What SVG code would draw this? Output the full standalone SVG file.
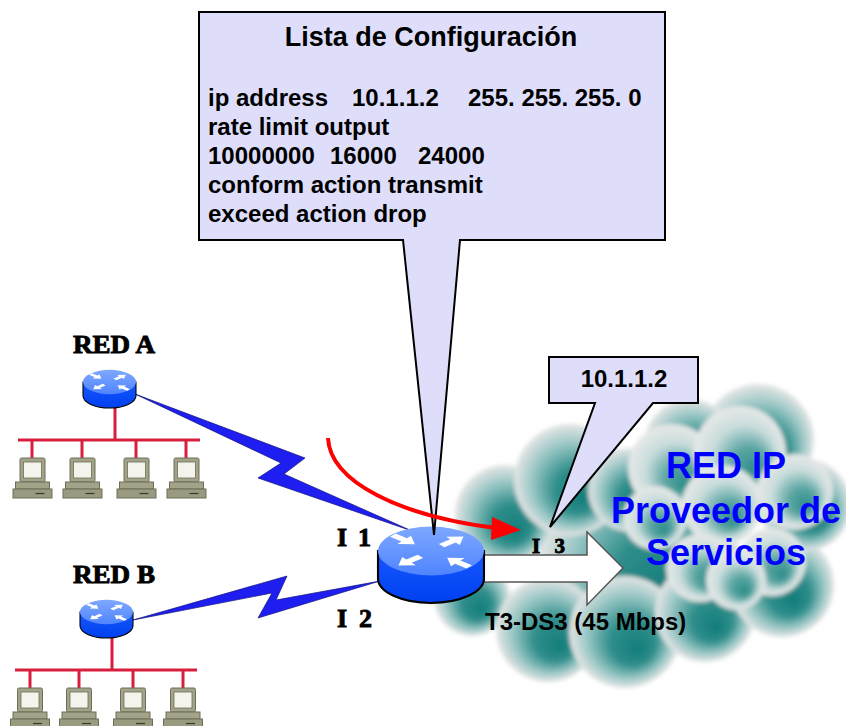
<svg xmlns="http://www.w3.org/2000/svg" xmlns:xlink="http://www.w3.org/1999/xlink" width="846" height="726" viewBox="0 0 846 726">
  <style>
    .cfg { font-family: "Liberation Sans", Arial, sans-serif; font-weight: bold; font-size: 24px; fill: #000; }
    .title { font-family: "Liberation Sans", Arial, sans-serif; font-weight: bold; font-size: 27px; fill: #000; }
    .lbl { font-family: "Liberation Serif", "Times New Roman", serif; font-weight: bold; fill: #000; stroke: #000; stroke-width: 0.9; }
    .sans { font-family: "Liberation Sans", Arial, sans-serif; font-weight: bold; }
    .blue { font-family: "Liberation Sans", Arial, sans-serif; font-weight: bold; font-size: 36px; fill: #0000ff; }
    .callout { fill: #dedefa; stroke: #000; stroke-width: 2; stroke-linejoin: miter; }
    .bolt { fill: #1e1ef0; stroke: #12127a; stroke-width: 0.7; }
    .lan { stroke: #d81e3c; stroke-width: 3; fill: none; }
    .puff { fill: url(#puffGrad); }
    .puff2 { fill: url(#puffGrad2); }
  </style>
  <defs>
    <radialGradient id="puffGrad" cx="0.5" cy="0.5" r="0.5" fx="0.62" fy="0.66">
      <stop offset="0" stop-color="#137d7a"/>
      <stop offset="0.4" stop-color="#2f8e8b"/>
      <stop offset="0.75" stop-color="#9cc8c6"/>
      <stop offset="1" stop-color="#e6e6e6"/>
    </radialGradient>
    <radialGradient id="puffGrad2" cx="0.5" cy="0.5" r="0.5" fx="0.66" fy="0.7">
      <stop offset="0" stop-color="#2a8c89"/>
      <stop offset="0.35" stop-color="#5aa5a2"/>
      <stop offset="0.7" stop-color="#c9dddc"/>
      <stop offset="1" stop-color="#e8e8e8"/>
    </radialGradient>
    <linearGradient id="routerTop" x1="0" y1="0" x2="0" y2="1">
      <stop offset="0" stop-color="#7ea8ff"/>
      <stop offset="1" stop-color="#4f84ff"/>
    </linearGradient>
    <linearGradient id="routerSide" x1="0" y1="0" x2="0" y2="1">
      <stop offset="0" stop-color="#1658ff"/>
      <stop offset="1" stop-color="#0040f0"/>
    </linearGradient>
    <filter id="soft" x="-5%" y="-5%" width="110%" height="110%">
      <feGaussianBlur stdDeviation="2"/>
    </filter>
    <!-- one white arrow, pointing along +x -->
    <polygon id="arr" points="0,-4 14,-4 14,-10 27,0 14,10 14,4 0,4" fill="#fff"/>
    <!-- router: unit size, top ellipse centred on the origin -->
    <g id="router">
      <path d="M-50,0 V26 A50,23 0 0 0 50,26 V0 Z" fill="url(#routerSide)" stroke="#000" stroke-width="2"/>
      <ellipse cx="0" cy="0" rx="50" ry="23" fill="url(#routerTop)"/>
      <g transform="scale(1,0.5)">
        <use xlink:href="#arr" transform="translate(-36,-30) rotate(40)"/>
        <use xlink:href="#arr" transform="translate(10,-10) rotate(-40)"/>
        <use xlink:href="#arr" transform="translate(-10,10) rotate(140)"/>
        <use xlink:href="#arr" transform="translate(36,30) rotate(-140)"/>
      </g>
    </g>
    <!-- workstation: monitor on a base unit, top centre at the origin -->
    <g id="pc">
      <rect x="-12.5" y="0" width="25" height="24" rx="1.5" fill="#a3a38a" stroke="#6e6e58" stroke-width="1"/>
      <rect x="-9" y="4" width="18" height="16" fill="#f4f4ec" stroke="#6e6e58" stroke-width="0.8"/>
      <rect x="-17" y="24" width="34" height="7" fill="#a3a38a" stroke="#6e6e58" stroke-width="1"/>
      <rect x="-19.5" y="31" width="39" height="9" fill="#9a9a80" stroke="#6e6e58" stroke-width="1"/>
      <line x1="3" y1="35.5" x2="12" y2="35.5" stroke="#3a3a2a" stroke-width="1.2"/>
    </g>
  </defs>

  <rect width="846" height="726" fill="#fff"/>

  <!-- provider cloud -->
  <g id="cloud" filter="url(#soft)">
    <circle class="puff" cx="640" cy="560" r="100"/>
    <circle class="puff" cx="472" cy="598" r="38"/>
    <circle class="puff" cx="505" cy="515" r="50"/>
    <circle class="puff" cx="570" cy="480" r="56"/>
    <circle class="puff" cx="548" cy="630" r="52"/>
    <circle class="puff" cx="625" cy="632" r="56"/>
    <circle class="puff" cx="705" cy="612" r="50"/>
    <circle class="puff" cx="782" cy="585" r="52"/>
    <circle class="puff" cx="805" cy="505" r="46"/>
    <circle class="puff" cx="758" cy="440" r="56"/>
    <circle class="puff" cx="690" cy="445" r="46"/>
    <circle class="puff" cx="630" cy="490" r="42"/>
    <circle class="puff2" cx="672" cy="468" r="44"/>
    <circle class="puff2" cx="740" cy="452" r="46"/>
    <circle class="puff2" cx="795" cy="492" r="38"/>
    <circle class="puff2" cx="655" cy="518" r="32"/>
    <circle class="puff2" cx="722" cy="505" r="40"/>
    <circle class="puff2" cx="700" cy="568" r="34"/>
    <circle class="puff2" cx="772" cy="562" r="34"/>
    <circle class="puff2" cx="736" cy="580" r="30"/>
  </g>

  <!-- T3 link arrow into the cloud -->
  <polygon id="t3-arrow" points="470,555 587,555 587,532 623,568 587,605 587,582 470,582" fill="#fff" stroke="#555" stroke-width="1.5"/>

  <!-- LAN segments -->
  <g id="lan-a">
    <path class="lan" d="M115,406 V440 M18,440 H200 M32,440 V458 M82,440 V458 M136,440 V458 M186,440 V458"/>
    <use xlink:href="#pc" x="32.5" y="458"/>
    <use xlink:href="#pc" x="82.5" y="458"/>
    <use xlink:href="#pc" x="136.5" y="458"/>
    <use xlink:href="#pc" x="186.5" y="458"/>
  </g>
  <g id="lan-b">
    <path class="lan" d="M112,636 V670 M15,670 H197 M30,670 V688 M79,670 V688 M133,670 V688 M183,670 V688"/>
    <use xlink:href="#pc" x="30" y="688"/>
    <use xlink:href="#pc" x="79" y="688"/>
    <use xlink:href="#pc" x="133" y="688"/>
    <use xlink:href="#pc" x="183" y="688"/>
  </g>

  <!-- serial links -->
  <g id="connectors">
    <polygon class="bolt" points="135,394 305,458 284,474 412,531 258,478 281,463"/>
    <polygon class="bolt" points="133,620 287,576 276,600 380,581 258,618 272,593"/>
  </g>

  <!-- routers -->
  <g id="router-a">
    <use xlink:href="#router" transform="translate(109.5,382) scale(0.53)"/>
    <text class="lbl" x="73" y="353" font-size="26" textLength="82" lengthAdjust="spacingAndGlyphs">RED A</text>
  </g>
  <g id="router-b">
    <use xlink:href="#router" transform="translate(106.5,612) scale(0.53)"/>
    <text class="lbl" x="73" y="583" font-size="26" textLength="82" lengthAdjust="spacingAndGlyphs">RED B</text>
  </g>
  <g id="router-main">
    <use xlink:href="#router" transform="translate(431,551) scale(1.06)"/>
    <text class="lbl" x="337" y="546" font-size="26" textLength="34" lengthAdjust="spacing">I 1</text>
    <text class="lbl" x="337" y="627" font-size="26" textLength="35" lengthAdjust="spacing">I 2</text>
    <text class="lbl" x="532" y="553" font-size="21" textLength="33" lengthAdjust="spacing">I 3</text>
  </g>

  <text id="t3-label" class="sans" x="485" y="630" font-size="24" fill="#000">T3-DS3 (45 Mbps)</text>

  <g id="provider-label">
    <text class="blue" x="726" y="478" text-anchor="middle">RED IP</text>
    <text class="blue" x="726" y="523" text-anchor="middle">Proveedor de</text>
    <text class="blue" x="726" y="565" text-anchor="middle">Servicios</text>
  </g>

  <!-- configuration callout -->
  <g id="config-list">
    <path class="callout" d="M199,12 H665 V240 H460 L434,535 L403,240 H199 Z"/>
    <text class="title" x="431" y="46" text-anchor="middle">Lista de Configuración</text>
    <text class="cfg" x="208" y="106">ip address</text>
    <text class="cfg" x="352" y="106">10.1.1.2</text>
    <text class="cfg" x="468" y="106">255. 255. 255. 0</text>
    <text class="cfg" x="208" y="135">rate limit output</text>
    <text class="cfg" x="208" y="164">10000000</text>
    <text class="cfg" x="330" y="164">16000</text>
    <text class="cfg" x="418" y="164">24000</text>
    <text class="cfg" x="208" y="193">conform action transmit</text>
    <text class="cfg" x="208" y="222">exceed action drop</text>
  </g>

  <!-- interface address callout -->
  <g id="address-callout">
    <path class="callout" d="M549,357 H698 V403 H653 L550,527 L595,403 H549 Z"/>
    <text class="sans" x="624" y="387" font-size="24" text-anchor="middle" fill="#000">10.1.1.2</text>
  </g>

  <!-- traffic flow -->
  <g id="flow">
    <path d="M328,438 C330,482 400,516 496,528" fill="none" stroke="#ff0000" stroke-width="4"/>
    <polygon points="492,517 521,530 491,540" fill="#ff0000"/>
  </g>
</svg>
